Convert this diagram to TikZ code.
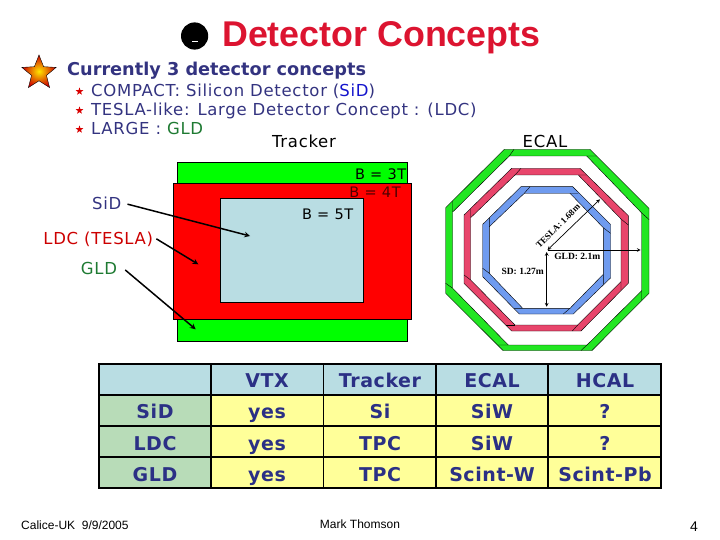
\documentclass[tikz,border=0pt]{standalone}
\usepackage{fontspec}
\setmainfont{DejaVu Sans}
\newfontfamily\wideface[LetterSpace=4.3]{DejaVu Sans}
\newfontfamily\tableface[LetterSpace=3]{DejaVu Sans}
\newfontfamily\arialfont{Liberation Sans}
\newfontfamily\serifbold[BoldFont=Liberation Serif Bold]{Liberation Serif}
\usetikzlibrary{shapes.geometric}
\definecolor{titlered}{HTML}{DC1430}
\definecolor{navytext}{HTML}{333380}
\definecolor{tablenavy}{HTML}{2B3085}
\definecolor{gldgreen}{HTML}{1E7A32}
\definecolor{ringgreen}{HTML}{22E622}
\definecolor{ringred}{HTML}{E8456B}
\definecolor{ringblue}{HTML}{6F9BEF}
\definecolor{paleblue}{HTML}{B9DDE3}
\definecolor{palegreen}{HTML}{B8DCB8}
\definecolor{paleyellow}{HTML}{FFFF99}
\tikzset{
  subline/.style={anchor=base west,inner sep=0pt,text=navytext,font=\fontsize{16.5}{18}\wideface},
  smallstar/.style={star,star points=5,star point ratio=2.4,fill=red!85!black,inner sep=0pt,minimum size=8pt},
  plainlabel/.style={anchor=base,inner sep=0pt,font=\fontsize{16.5}{18}\wideface},
  blabel/.style={anchor=base,inner sep=0pt,font=\fontsize{14.5}{16}\wideface},
  ringlabel/.style={inner sep=0pt,font=\fontsize{9.5}{11}\serifbold\bfseries},
  cell/.style={anchor=base,inner sep=0pt,text=tablenavy,font=\fontsize{19}{20}\tableface\bfseries},
  foot/.style={inner sep=0pt,font=\fontsize{12}{14}\arialfont},
  bigarrow/.style={-stealth,line width=1.5pt},
  ringarrow/.style={stealth-stealth,line width=0.7pt},
  ring/.style={draw=black,line width=0.4pt,even odd rule},
  joint/.style={draw=black,line width=0.4pt},
}
\begin{document}
\begin{tikzpicture}[x=1pt,y=-1pt]
    \useasboundingbox (0,0) rectangle (720,540);
    % title
    \fill[black] (194.6,36) circle (13.6);
    \draw[white,line width=0.8pt] (192,41) -- (198,41);
    \node[anchor=base west,inner sep=0pt,text=titlered,font=\fontsize{35.8}{40}\arialfont\bfseries] (title) at (222,47) {Detector Concepts};
    % text
    \node[star,star points=5,star point ratio=2.3,draw=black,inner color=yellow!80!orange,outer color=red!80!black,inner sep=0pt,minimum size=36pt] (bigstar) at (39,73) {};
    \node[anchor=base west,inner sep=0pt,text=navytext,font=\fontsize{17.7}{20}\selectfont\bfseries] (heading) at (67,76) {Currently 3 detector concepts};
    \node[smallstar] (stara) at (79.5,91.5) {};
    \node[smallstar] (starb) at (79.5,110.5) {};
    \node[smallstar] (starc) at (79.5,129.5) {};
    \node[subline] (linea) at (91,97) {COMPACT: Silicon Detector (\textcolor{blue!60!navytext}{SiD})};
    \node[subline] (lineb) at (91,116) {TESLA-like: Large Detector Concept : (LDC)};
    \node[subline] (linec) at (91,135) {LARGE : \textcolor{gldgreen}{GLD}};
    \node[plainlabel] (tracker) at (304,148) {Tracker};
    \node[plainlabel] (ecal) at (545,148) {ECAL};
    % tracker boxes
    \draw[fill=green] (176.7,162.7) rectangle (406.7,341);
    \draw[fill=red] (172.7,183.3) rectangle (410.7,319.3);
    \draw[fill=paleblue] (219.7,198.3) rectangle (363.3,302.3);
    \node[blabel] (bthree) at (380.7,180) {B = 3T};
    \node[blabel,text=red!30!black] (bfour) at (375,197) {B = 4T};
    \node[blabel] (bfive) at (327.7,219) {B = 5T};
    \node[plainlabel,text=navytext] (sid) at (106.7,209.3) {SiD};
    \node[plainlabel,text=red!80!black] (ldc) at (98.3,244) {LDC (TESLA)};
    \node[plainlabel,text=gldgreen] (gld) at (99,274) {GLD};
    \coordinate (sidend) at (250,236);
    \coordinate (ldcend) at (198.3,264.3);
    \coordinate (gldend) at (195.7,329.3);
    \draw[bigarrow] (sid.east) ++(6,1) -- (sidend);
    \draw[bigarrow] (ldc.east) ++(3,0) -- (ldcend);
    \draw[bigarrow] (gld.east) ++(8,2) -- (gldend);
    % octagons
    \path[ring,fill=ringgreen] (504.3,149.3) -- (590,149.3) -- (649,208.3) -- (649,293.3) -- (592,350.5) -- (503,350.5) -- (445.7,293.3) -- (445.7,207.7) -- cycle
      (509.3,156) -- (586.7,156) -- (641.7,213) -- (641.7,290.7) -- (587,345) -- (508.3,345) -- (452.7,288.3) -- (452.7,212) -- cycle;
    \path[joint] (514,149.3) -- (509.3,156) (452.7,201) -- (452.7,212) (586.7,156) -- (596.7,156)
      (641.7,213) -- (649,219.5) (641.7,290.7) -- (641.7,300) (587,345) -- (581,350.5)
      (498.3,345) -- (508.3,345) (445.7,283.3) -- (452.7,288.3);
    \path[ring,fill=ringred] (511.7,168.3) -- (580,168.3) -- (628.3,215.7) -- (628.3,283.3) -- (581,331) -- (511.7,331) -- (464,283.3) -- (464,215) -- cycle
      (515,175) -- (578.3,175) -- (621,219) -- (621,281.7) -- (577.7,325) -- (515,325) -- (470.7,280) -- (470.7,217.7) -- cycle;
    \path[joint] (521,168.3) -- (515,175) (470.7,209) -- (470.7,217.7) (578.3,175) -- (586.7,175)
      (621,219) -- (628.3,225) (621,281.7) -- (621,290) (577.7,325) -- (572.3,331)
      (464,275) -- (470.7,280);
    \draw[line width=1pt] (505.7,325) -- (515,325);
    \path[ring,fill=ringblue] (521,186.7) -- (572.7,186.7) -- (610.5,224.3) -- (610.5,278) -- (573.3,314) -- (519.3,314) -- (482.7,276.7) -- (482.7,224.3) -- cycle
      (524.3,193.3) -- (570,193.3) -- (603.3,227.7) -- (603.3,274.3) -- (570,308.3) -- (522.7,308.3) -- (489.3,273.3) -- (489.3,226.7) -- cycle;
    \path[joint] (530,186.7) -- (524.3,193.3) (489.3,217.7) -- (489.3,226.7) (570,193.3) -- (578.3,193.3)
      (603.3,227.7) -- (610.5,233.3) (603.3,274.3) -- (603.3,284.3) (570,308.3) -- (563.3,314)
      (482.7,268.3) -- (489.3,273.3) (514,308.3) -- (522.7,308.3);
    \coordinate (ringcentre) at (547.5,250);
    \coordinate (sdend) at (546.7,306.7);
    \coordinate (sdstart) at (546.7,252);
    \coordinate (gldring) at (640.7,250);
    \coordinate (teslaend) at (600,199.3);
    \draw[ringarrow] (sdstart) -- (sdend);
    \draw[-stealth,line width=0.7pt] (ringcentre) -- (gldring);
    \draw[ringarrow] (ringcentre) -- (teslaend);
    \node[ringlabel] (sdlabel) at (522.7,271) {\textbf{SD: 1.27m}};
    \node[ringlabel] (gldlabel) at (577.3,256.5) {\textbf{GLD: 2.1m}};
    \node[ringlabel,rotate=45,font=\fontsize{9}{11}\serifbold\bfseries] (teslalabel) at (558,226) {\textbf{TESLA: 1.68m}};
    % table
    \fill[paleblue] (99,364) rectangle (661,395);
    \fill[palegreen] (99,395) rectangle (211,488);
    \fill[paleyellow] (211,395) rectangle (661,488);
    \draw[line width=1.5pt] (211,364) -- (211,488) (323.5,364) -- (323.5,488) (436,364) -- (436,488) (548,364) -- (548,488);
    \draw[line width=1.5pt] (99,395) -- (661,395) (99,426) -- (661,426) (99,457) -- (661,457);
    \draw[line width=2.2pt] (99,364) rectangle (661,488);
    \node[cell] (vtx) at (267,387) {VTX};
    \node[cell] (trk) at (380,387) {Tracker};
    \node[cell] (ecl) at (492,387) {ECAL};
    \node[cell] (hcl) at (605,387) {HCAL};
    \node[cell] (sidrow) at (155,418) {SiD};
    \node[cell] (sida) at (267,418) {yes};
    \node[cell] (sidb) at (380,418) {Si};
    \node[cell] (sidc) at (492,418) {SiW};
    \node[cell] (sidd) at (605,418) {?};
    \node[cell] (ldcrow) at (155,450) {LDC};
    \node[cell] (ldca) at (267,450) {yes};
    \node[cell] (ldcb) at (380,450) {TPC};
    \node[cell] (ldcc) at (492,450) {SiW};
    \node[cell] (ldcd) at (605,450) {?};
    \node[cell] (gldrow) at (155,481) {GLD};
    \node[cell] (glda) at (267,481) {yes};
    \node[cell] (gldb) at (380,481) {TPC};
    \node[cell] (gldc) at (492,481) {Scint-W};
    \node[cell] (gldd) at (605,481) {Scint-Pb};
    % footer
    \node[foot,anchor=base west] (date) at (21,529) {Calice-UK\ \ 9/9/2005};
    \node[foot,anchor=base] (author) at (360,528) {Mark Thomson};
    \node[foot,anchor=base,font=\fontsize{14}{16}\arialfont] (page) at (694,531) {4};
\end{tikzpicture}
\end{document}
